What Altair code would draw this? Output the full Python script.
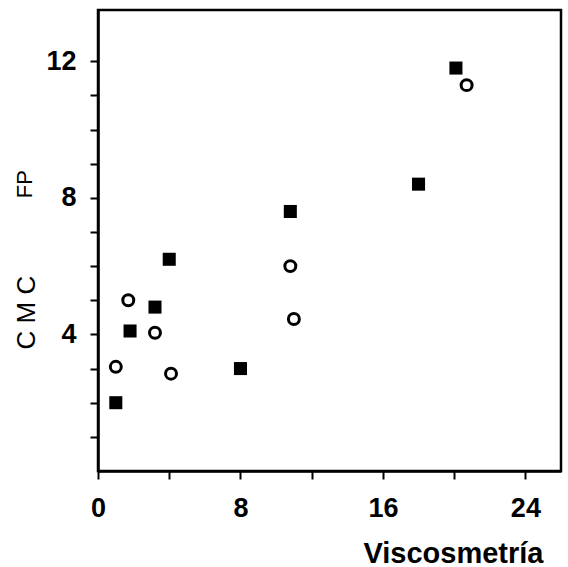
import altair as alt
import pandas as pd

# Filled squares series
sq_x = [1.0, 1.8, 3.2, 4.0, 8.0, 10.8, 18.0, 20.1]
sq_y = [2.0, 4.1, 4.8, 6.2, 3.0, 7.6, 8.4, 11.8]

# Open circles series
ci_x = [1.0, 1.7, 3.2, 4.1, 10.8, 11.0, 20.7]
ci_y = [3.05, 5.0, 4.05, 2.85, 6.0, 4.45, 11.3]

x_ticks = list(range(0, 26, 2))
y_ticks = list(range(1, 13))

x_title = "Viscosmetría"
y_label_top = "FP"
y_label_bottom = "C M C"

sq = pd.DataFrame({"x": sq_x, "y": sq_y})
ci = pd.DataFrame({"x": ci_x, "y": ci_y})

FONT = "Liberation Sans"

xscale = alt.Scale(domain=[0, 26], nice=False, zero=False)
yscale = alt.Scale(domain=[0, 13.5], nice=False, zero=False)

xaxis = alt.Axis(
    values=x_ticks,
    labelExpr="datum.value % 8 == 0 ? datum.label : ''",
    title=x_title,
    titleFontSize=29,
    titleFontWeight="bold",
    titleFont=FONT,
    titleAnchor="end",
    titleAlign="right",
    titleBaseline="alphabetic",
    titleX=445,
    titleY=91,
    labelFontSize=27,
    labelFont=FONT,
    labelFontWeight="bold",
    labelPadding=16,
    labelFlush=False,
    labelOverlap=False,
)
yaxis = alt.Axis(
    values=y_ticks,
    labelExpr="datum.value % 4 == 0 ? datum.label : ''",
    title=None,
    labelFontSize=27,
    labelFont=FONT,
    labelFontWeight="bold",
    labelPadding=14,
    labelFlush=False,
    labelOverlap=False,
)

squares = alt.Chart(sq).mark_square(size=170, color="black", opacity=1).encode(
    x=alt.X("x:Q", scale=xscale, axis=xaxis),
    y=alt.Y("y:Q", scale=yscale, axis=yaxis),
)

circles = alt.Chart(ci).mark_point(
    shape="circle", filled=False, size=120, strokeWidth=3, color="black", opacity=1
).encode(
    x=alt.X("x:Q", scale=xscale),
    y=alt.Y("y:Q", scale=yscale),
)

fp_text = alt.Chart(pd.DataFrame({"t": [y_label_top]})).mark_text(
    angle=270, fontSize=22, font=FONT, align="center", baseline="middle", color="black"
).encode(text="t:N", x=alt.value(-73), y=alt.Y(datum=8.4, scale=yscale))

cmc_text = alt.Chart(pd.DataFrame({"t": [y_label_bottom]})).mark_text(
    angle=270, fontSize=26, font=FONT, align="center", baseline="middle", color="black"
).encode(text="t:N", x=alt.value(-71), y=alt.Y(datum=4.64, scale=yscale))

chart = (
    alt.layer(squares, circles, fp_text, cmc_text)
    .properties(
        width=463,
        height=461,
        autosize=alt.AutoSizeParams(type="none"),
        padding={"left": 98, "top": 10, "right": 7, "bottom": 96},
        background="white",
    )
    .configure_view(stroke="black", strokeWidth=2.5)
    .configure_axis(
        grid=False,
        domainColor="black",
        domainWidth=2.5,
        tickColor="black",
        tickWidth=2,
        tickSize=8,
        labelColor="black",
        titleColor="black",
    )
)

chart.save("out.html", embed_options={"renderer": "svg", "actions": False})
